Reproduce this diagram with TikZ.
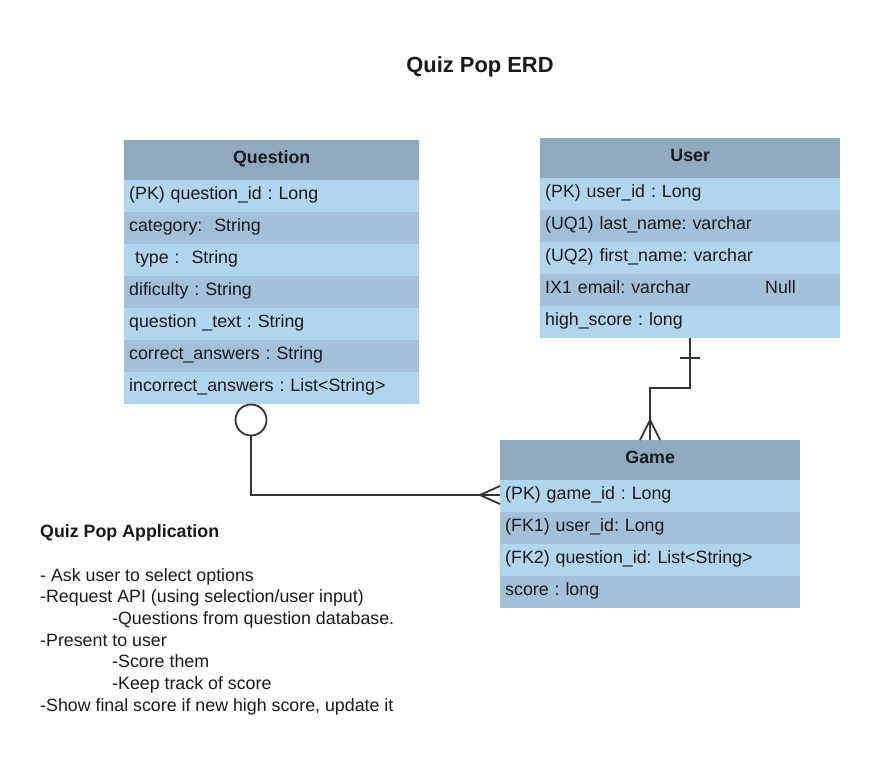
\documentclass[tikz,border=0pt]{standalone}
\usepackage{fontspec}
\setmainfont{Liberation Sans}
\frenchspacing
\definecolor{hdrc}{HTML}{8FAAC0}
\definecolor{lightc}{HTML}{B0D5EF}
\definecolor{darkc}{HTML}{A0C1D9}
\definecolor{txtc}{HTML}{1A1A1A}
\definecolor{linec}{HTML}{333333}
\begin{document}
\begin{tikzpicture}[x=1pt,y=-1pt,
  bodyfont/.style={font=\fontsize{17.8}{21.7}\selectfont},
  cell/.style={bodyfont, text=txtc, inner sep=0pt, anchor=north west, minimum height=32pt, text height=12.8pt, text depth=6pt},
  hdr/.style={cell, fill=hdrc, font=\fontsize{17.8}{21.7}\selectfont\bfseries, minimum height=40pt, align=center},
  lrow/.style={cell, fill=lightc, align=left, inner xsep=5pt},
  drow/.style={lrow, fill=darkc},
  conn/.style={draw=linec, line width=1.8pt},
]
\useasboundingbox (0,0) rectangle (880,760);
\fill[white] (0,0) rectangle (880,760);

\node[font=\fontsize{21.9}{26}\selectfont\bfseries, text=txtc] (title) at (480,67) {Quiz Pop ERD};

% Question table
\node[hdr, text width=295pt] (q0) at (124,140) {Question};
\node[lrow, text width=285pt] (q1) at (124,180) {(PK) question\_id : Long};
\node[drow, text width=285pt] (q2) at (124,212) {category:~ String};
\node[lrow, text width=285pt] (q3) at (124,244) {~type :~ String};
\node[drow, text width=285pt] (q4) at (124,276) {dificulty : String};
\node[lrow, text width=285pt] (q5) at (124,308) {question \_text : String};
\node[drow, text width=285pt] (q6) at (124,340) {correct\_answers : String};
\node[lrow, text width=285pt] (q7) at (124,372) {incorrect\_answers : List<String>};

% User table
\node[hdr, text width=300pt] (u0) at (540,138) {User};
\node[lrow, text width=290pt] (u1) at (540,178) {(PK) user\_id : Long};
\node[drow, text width=290pt] (u2) at (540,210) {(UQ1) last\_name: varchar};
\node[lrow, text width=290pt] (u3) at (540,242) {(UQ2) first\_name: varchar};
\node[drow, text width=290pt] (u4) at (540,274) {\makebox[220pt][l]{IX1 email: varchar}Null};
\node[lrow, text width=290pt] (u5) at (540,306) {high\_score : long};

% Game table
\node[hdr, text width=300pt] (g0) at (500,440) {Game};
\node[lrow, text width=290pt] (g1) at (500,480) {(PK) game\_id : Long};
\node[drow, text width=290pt] (g2) at (500,512) {(FK1) user\_id: Long};
\node[lrow, text width=290pt] (g3) at (500,544) {(FK2) question\_id: List<String>};
\node[drow, text width=290pt] (g4) at (500,576) {score : long};

% Notes
\node[bodyfont, text=txtc, inner sep=0pt, anchor=north west, align=left] (notes) at (40,524.5)
{\textbf{Quiz Pop Application}\\[21.7pt]
- Ask user to select options\\
-Request API (using selection/user input)\\
\hspace*{72pt}-Questions from question database.\\
-Present to user\\
\hspace*{72pt}-Score them\\
\hspace*{72pt}-Keep track of score\\
-Show final score if new high score, update it};

% Question -- Game connector (zero-or-one to many)
\node[draw=linec, line width=1.8pt, fill=white, circle, minimum size=31pt, inner sep=0pt] (qc) at (251,420) {};
\coordinate (qg) at (500,495);
\draw[conn] (qc.south) |- (qg);
\draw[conn] ([shift={(0,-9)}]qg) -- ([shift={(-20,0)}]qg) -- ([shift={(0,9)}]qg);

% User -- Game connector (one to many)
\coordinate (ub) at (690,338);
\coordinate (gt) at (650,440);
\draw[conn] (ub) -- (690,388) -| (gt);
\draw[conn] ([shift={(-10,20)}]ub) -- ([shift={(10,20)}]ub);
\draw[conn] ([shift={(-10,0)}]gt) -- ([shift={(0,-20)}]gt) -- ([shift={(10,0)}]gt);
\end{tikzpicture}
\end{document}
